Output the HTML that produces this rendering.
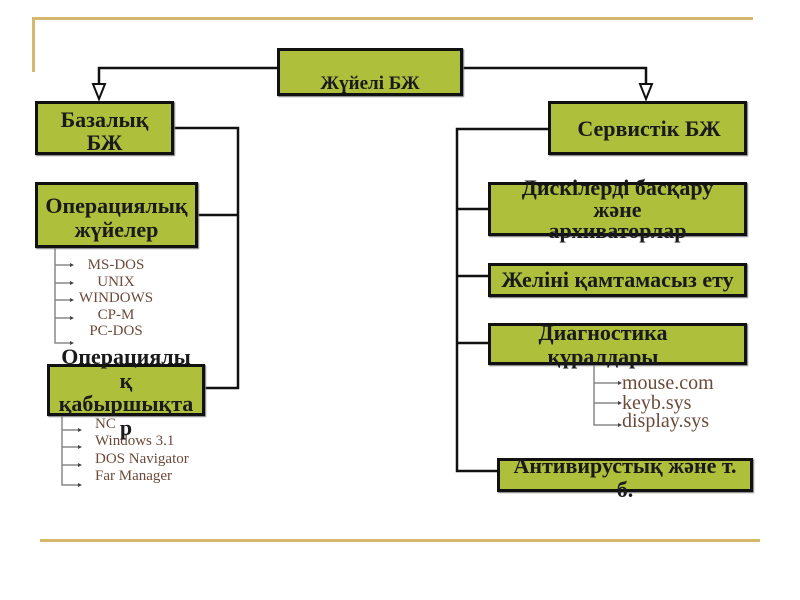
<!DOCTYPE html>
<html><head><meta charset="utf-8"><style>
body{margin:0;width:800px;height:600px;background:#fff;position:relative;overflow:hidden;font-family:"Liberation Serif",serif}
.b{position:absolute;background:#adbf3b;border:3px solid #111;box-sizing:border-box;box-shadow:1px 1px 1px #777}
.t{position:absolute;font-weight:bold;font-size:22px;color:#1a1a1a;text-align:center;line-height:24px;white-space:nowrap}
.l{position:absolute;font-size:15px;color:#6b4a3a;white-space:nowrap;line-height:17px}
.c{text-align:center;width:80px;left:76px}
.m{position:absolute;font-size:20px;color:#6b4a3a;white-space:nowrap;line-height:20px}
</style></head><body>
<div style="position:absolute;left:35px;top:17px;width:718px;height:3px;background:#d6b76e"></div>
<div style="position:absolute;left:32px;top:17px;width:3px;height:55px;background:#d6b76e"></div>
<div style="position:absolute;left:40px;top:539px;width:720px;height:3px;background:#d6b76e"></div>
<svg width="800" height="600" style="position:absolute;left:0;top:0">
<g stroke="#111" stroke-width="2.5" fill="none">
<polyline points="277,68 99,68 99,84"/>
<polyline points="463,68 646,68 646,84"/>
<polyline points="174,128 238,128 238,388 205,388"/>
<line x1="198" y1="215" x2="238" y2="215"/>
<polyline points="548,129 457,129 457,471 497,471"/>
<line x1="457" y1="209" x2="488" y2="209"/>
<line x1="457" y1="276" x2="488" y2="276"/>
<line x1="457" y1="343" x2="488" y2="343"/>
</g>
<g fill="#fff" stroke="#111" stroke-width="2">
<polygon points="93,84 105,84 99,99"/>
<polygon points="640,84 652,84 646,99"/>
</g>
<g stroke="#888" stroke-width="1.5" fill="none">
<polyline points="55,248 55,343 70,343"/>
<line x1="55" y1="265" x2="70" y2="265"/><line x1="55" y1="283" x2="70" y2="283"/>
<line x1="55" y1="300" x2="70" y2="300"/><line x1="55" y1="318" x2="70" y2="318"/>
<polyline points="62,416 62,485 78,485"/>
<line x1="62" y1="430" x2="78" y2="430"/><line x1="62" y1="447" x2="78" y2="447"/>
<line x1="62" y1="465" x2="78" y2="465"/>
<polyline points="594,365 594,425 618,425"/>
<line x1="594" y1="383" x2="618" y2="383"/><line x1="594" y1="403" x2="618" y2="403"/>
</g>
<g fill="#444">
<polygon points="70,263 74,265 70,267"/><polygon points="70,281 74,283 70,285"/><polygon points="70,298 74,300 70,302"/><polygon points="70,316 74,318 70,320"/><polygon points="70,341 74,343 70,345"/>
<polygon points="78,428 82,430 78,432"/><polygon points="78,445 82,447 78,449"/><polygon points="78,463 82,465 78,467"/><polygon points="78,483 82,485 78,487"/>
<polygon points="618,381 622,383 618,385"/><polygon points="618,401 622,403 618,405"/><polygon points="618,423 622,425 618,427"/>
</g>
</svg>
<div class="b" style="left:277px;top:48px;width:186px;height:48px"></div>
<div class="t" style="left:277px;top:72px;width:186px;font-size:19px">Жүйелі БЖ</div>
<div class="b" style="left:35px;top:101px;width:139px;height:54px"></div>
<div class="t" style="left:35px;top:108px;width:139px;line-height:23px">Базалық<br>БЖ</div>
<div class="b" style="left:35px;top:182px;width:163px;height:66px"></div>
<div class="t" style="left:35px;top:194px;width:163px">Операциялық<br>жүйелер</div>
<div class="l c" style="top:257px">MS-DOS</div>
<div class="l c" style="top:274px">UNIX</div>
<div class="l c" style="top:290px">WINDOWS</div>
<div class="l c" style="top:307px">CP-M</div>
<div class="l c" style="top:323px">PC-DOS</div>
<div class="l" style="left:95px;top:416px">NC</div>
<div class="l" style="left:95px;top:433px">Windows 3.1</div>
<div class="l" style="left:95px;top:451px">DOS Navigator</div>
<div class="l" style="left:95px;top:468px">Far Manager</div>
<div class="b" style="left:47px;top:364px;width:158px;height:52px"></div>
<div class="t" style="left:47px;top:345px;width:158px;line-height:23.5px">Операциялы<br>қ<br>қабыршықта<br>р</div>
<div class="b" style="left:548px;top:101px;width:199px;height:54px"></div>
<div class="t" style="left:553px;top:117px;width:192px">Сервистік БЖ</div>
<div class="b" style="left:488px;top:182px;width:259px;height:54px"></div>
<div class="t" style="left:488px;top:177px;width:259px;line-height:21.5px">Дискілерді басқару<br>және<br>архиваторлар</div>
<div class="b" style="left:488px;top:263px;width:259px;height:34px"></div>
<div class="t" style="left:488px;top:268px;width:259px">Желіні қамтамасыз ету</div>
<div class="b" style="left:488px;top:323px;width:259px;height:42px"></div>
<div class="t" style="left:488px;top:321px;width:230px;line-height:24px">Диагностика<br>құралдары</div>
<div class="m" style="left:622px;top:373px">mouse.com</div>
<div class="m" style="left:622px;top:393px">keyb.sys</div>
<div class="m" style="left:622px;top:411px">display.sys</div>
<div class="b" style="left:497px;top:458px;width:256px;height:34px"></div>
<div class="t" style="left:497px;top:454px;width:256px;line-height:24px">Антивирустық және т.<br>б.</div>
</body></html>
